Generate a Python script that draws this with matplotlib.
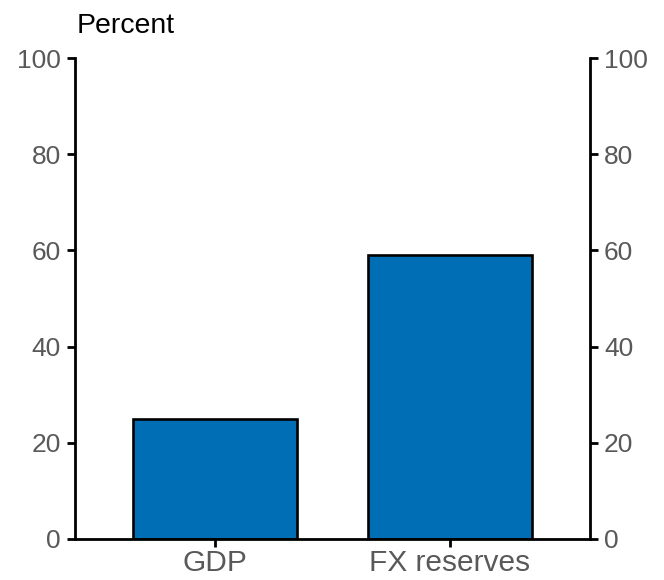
import matplotlib
matplotlib.use("Agg")
import matplotlib.pyplot as plt

categories = ["GDP", "FX reserves"]
values = [25, 59]
yticks = [0, 20, 40, 60, 80, 100]

plt.rcParams['font.family'] = ['Liberation Sans', 'DejaVu Sans']

fig = plt.figure(figsize=(6.64, 5.80), dpi=100)
ax = fig.add_axes([75/664, 1-539/580, (590-75)/664, (539-58)/580])

x = range(len(categories))
ax.bar(x, values, width=0.698, color="#006EB4", edgecolor="black", linewidth=1.9, zorder=2)

ax.set_xlim(-0.596, 1.596)
ax.set_ylim(0, 100)
ax.set_xticks(list(x))
ax.set_xticklabels(categories)
ax.set_yticks(yticks)

ax.spines['top'].set_visible(False)
for s in ['left', 'right', 'bottom']:
    ax.spines[s].set_linewidth(2)

ax.tick_params(axis='y', which='both', left=True, right=True, labelleft=True, labelright=True,
               length=6, width=2, direction='out', labelsize=19, labelcolor='#595959', pad=4)
ax.tick_params(axis='x', length=6, width=2, direction='out', labelsize=21.5, labelcolor='#595959', pad=1.5)

fig.text(77/664, 1-33/580, "Percent", fontsize=20.5, color='black', ha='left', va='baseline')

fig.savefig("out.png", dpi=100)
